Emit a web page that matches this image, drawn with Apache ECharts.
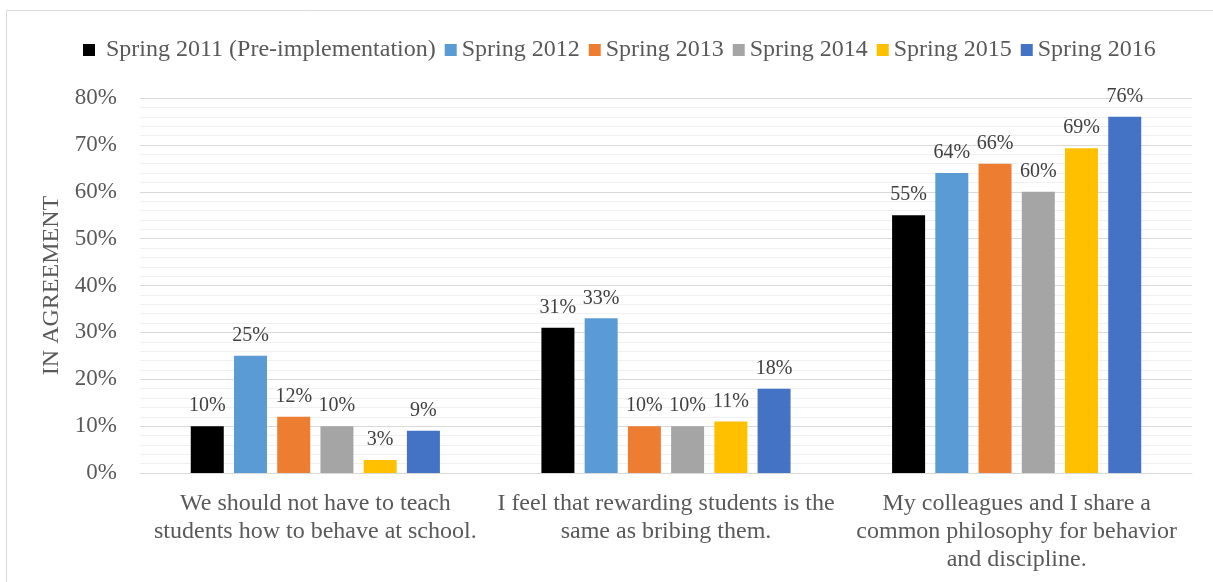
<!DOCTYPE html>
<html>
<head>
<meta charset="utf-8">
<script src="https://cdn.jsdelivr.net/npm/echarts@6/dist/echarts.min.js"></script>
<style>
html,body{margin:0;padding:0;background:#fff;}
#c{width:1213px;height:582px;}
</style>
</head>
<body>
<div id="c"></div>
<script>
const categories = [
  "We should not have to teach\nstudents how to behave at school.",
  "I feel that rewarding students is the\nsame as bribing them.",
  "My colleagues and I share a\ncommon philosophy for behavior\nand discipline."
];
const seriesNames = ["Spring 2011 (Pre-implementation)", "Spring 2012", "Spring 2013", "Spring 2014", "Spring 2015", "Spring 2016"];
const s2011 = [10, 31, 55];
const s2012 = [25, 33, 64];
const s2013 = [12, 10, 66];
const s2014 = [10, 10, 60];
const s2015 = [2.8, 11, 69.3];
const s2016 = [9, 18, 76];
const colors = ["#000000", "#5B9BD5", "#ED7D31", "#A5A5A5", "#FFC000", "#4472C4"];
const yTicks = [0, 10, 20, 30, 40, 50, 60, 70, 80];

const allData = [s2011, s2012, s2013, s2014, s2015, s2016];
const font = "Liberation Serif";
const chart = echarts.init(document.getElementById('c'));
chart.setOption({
  animation: false,
  textStyle: { fontFamily: font },
  graphic: [{
    type: 'rect', shape: { x: 6.5, y: 10.5, width: 1240, height: 620 },
    style: { fill: 'none', stroke: '#d9d9d9', lineWidth: 1 }, silent: true, z: -10
  }],
  legend: {
    top: 33, left: 78, itemWidth: 12, itemHeight: 12, itemGap: 9,
    icon: 'rect',
    textStyle: { fontFamily: font, fontSize: 24, color: '#595959' },
    data: seriesNames.map((n, i) => i === 0 ? { name: n, textStyle: { padding: [0, 0, 0, 6] } } : { name: n })
  },
  grid: { left: 140, right: 21, top: 98, bottom: 109, containLabel: false },
  xAxis: {
    type: 'category', data: categories,
    axisLine: { lineStyle: { color: '#d9d9d9', width: 1 } },
    axisTick: { show: false },
    axisLabel: {
      interval: 0, color: '#595959', fontFamily: font, fontSize: 24, lineHeight: 28, margin: 17, align: 'center'
    }
  },
  yAxis: {
    type: 'value', min: yTicks[0], max: yTicks[yTicks.length - 1], interval: 10,
    name: 'IN AGREEMENT', nameLocation: 'middle', nameGap: 68,
    nameTextStyle: { fontFamily: font, fontSize: 24, color: '#595959' },
    axisLine: { show: false }, axisTick: { show: false },
    axisLabel: {
      formatter: v => v + '%', fontFamily: font, fontSize: 23, color: '#595959', margin: 23
    },
    splitLine: { lineStyle: { color: '#d9d9d9', width: 1 } },
    minorTick: { show: false, splitNumber: 5 },
    minorSplitLine: { show: true, lineStyle: { color: '#f0f0f0', width: 1 } }
  },
  series: allData.map((d, i) => ({
    name: seriesNames[i], type: 'bar', data: d,
    barWidth: 33, barGap: '31%',
    itemStyle: { color: colors[i] },
    label: {
      show: true, position: 'top', distance: 10,
      formatter: p => Math.round(p.value) + '%',
      fontFamily: font, fontSize: 20, color: '#404040'
    }
  }))
});
</script>
</body>
</html>
